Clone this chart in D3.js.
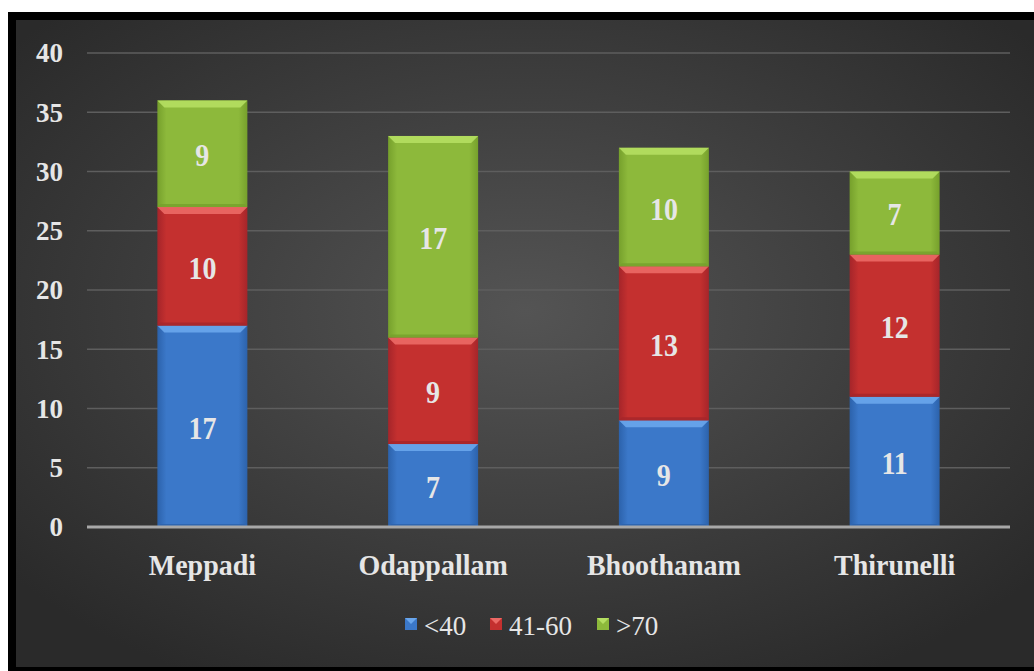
<!DOCTYPE html>
<html><head><meta charset="utf-8">
<script src="https://cdn.jsdelivr.net/npm/d3@7"></script>
<style>html,body{margin:0;padding:0;background:#fff;}svg{display:block;}</style>
</head><body>
<svg id="c" width="1034" height="671"></svg>
<script>
const categories = ["Meppadi", "Odappallam", "Bhoothanam", "Thirunelli"];
const seriesNames = ["<40", "41-60", ">70"];
const lt40 = [17, 7, 9, 11];
const s41to60 = [10, 9, 13, 12];
const gt70 = [9, 17, 10, 7];
const yTicks = [0, 5, 10, 15, 20, 25, 30, 35, 40];
const colors = ["#3b78c9", "#c4302f", "#8db93b"];
const lightColors = ["#6aa6ec", "#ec6a66", "#b5df62"];
const darkColors = ["#2c62ab", "#a5252a", "#76a02c"];
const FONT = "'Liberation Serif','Times New Roman','DejaVu Serif',serif";

const svg = d3.select("#c");
const W = 1034, H = 671;
const defs = svg.append("defs");
const bg = defs.append("radialGradient").attr("id","bg").attr("cx","50%").attr("cy","45%").attr("r","65%");
bg.append("stop").attr("offset","0%").attr("stop-color","#545454");
bg.append("stop").attr("offset","100%").attr("stop-color","#2a2a2a");
colors.forEach((c,i)=>{
  const g = defs.append("linearGradient").attr("id","g"+i).attr("x1","0").attr("x2","1").attr("y1","0").attr("y2","0");
  g.append("stop").attr("offset","0%").attr("stop-color",darkColors[i]);
  g.append("stop").attr("offset","10%").attr("stop-color",c);
  g.append("stop").attr("offset","90%").attr("stop-color",c);
  g.append("stop").attr("offset","100%").attr("stop-color",darkColors[i]);
});

// frame
svg.append("rect").attr("x",8).attr("y",12).attr("width",W-8).attr("height",H-12).attr("fill","#000");
svg.append("rect").attr("x",16).attr("y",20).attr("width",W-16).attr("height",H-24).attr("fill","url(#bg)");

const x = d3.scaleBand().domain(categories).range([87,1010]).paddingInner(0.61).paddingOuter(0.305);
const y = d3.scaleLinear().domain([0,40]).range([527,53]);

// grid
svg.append("g").selectAll("line").data(yTicks.filter(t=>t>0)).join("line")
  .attr("x1",87).attr("x2",1010).attr("y1",d=>y(d)).attr("y2",d=>y(d))
  .attr("stroke","#5e5e5e").attr("stroke-width",1.5);

// y axis labels
const yAxis = d3.axisLeft(y).tickValues(yTicks).tickSize(0).tickPadding(0);
const ya = svg.append("g").attr("transform","translate(63,0)").call(yAxis);
ya.select(".domain").remove();
ya.selectAll("text").attr("font-family",FONT).attr("font-weight","bold")
  .attr("font-size",27).attr("fill","#e6e6e6").attr("dy","0.33em");

// stacks
const rows = categories.map((c,i)=>({cat:c, s0:lt40[i], s1:s41to60[i], s2:gt70[i]}));
const stack = d3.stack().keys(["s0","s1","s2"])(rows);
const bw = x.bandwidth();
const bev = 7;
stack.forEach((layer,si)=>{
  const g = svg.append("g");
  layer.forEach((d,ci)=>{
    const x0 = x(categories[ci]), y0 = y(d[1]), y1 = y(d[0]);
    const h = y1 - y0;
    g.append("rect").attr("x",x0).attr("y",y0).attr("width",bw).attr("height",h).attr("fill","url(#g"+si+")");
    g.append("path").attr("d",`M${x0},${y0}L${x0+bw},${y0}L${x0+bw-bev},${y0+bev}L${x0+bev},${y0+bev}Z`)
      .attr("fill",lightColors[si]).attr("opacity",0.9);
    g.append("path").attr("d",`M${x0},${y1}L${x0+bw},${y1}L${x0+bw-3},${y1-3}L${x0+3},${y1-3}Z`)
      .attr("fill",darkColors[si]).attr("opacity",0.8);
    g.append("text").attr("transform",`translate(${x0+bw/2},${(y0+y1)/2 + 2}) scale(1,1.1)`).attr("dy","0.34em")
      .attr("text-anchor","middle").attr("font-family",FONT).attr("font-weight","bold")
      .attr("font-size",28).attr("fill","#e6e6e6").text(d[1]-d[0]);
  });
});

// baseline
svg.append("line").attr("x1",87).attr("x2",1010).attr("y1",y(0)).attr("y2",y(0)).attr("stroke","#a8a8a8").attr("stroke-width",3);

// x axis
const xAxis = d3.axisBottom(x).tickSize(0).tickPadding(0);
const xa = svg.append("g").attr("transform","translate(0,565)").call(xAxis);
xa.select(".domain").remove();
xa.selectAll("text").attr("font-family",FONT).attr("font-weight","bold")
  .attr("font-size",28).attr("fill","#e6e6e6").attr("dy","0.34em").attr("transform","scale(1,1.08)");

// legend
const legX = [405, 490, 597];
const lg = svg.append("g");
seriesNames.forEach((n,i)=>{
  lg.append("rect").attr("x",legX[i]).attr("y",618).attr("width",12).attr("height",12).attr("fill",colors[i]);
  lg.append("path").attr("d",`M${legX[i]},618L${legX[i]+12},618L${legX[i]+6},624Z`).attr("fill",lightColors[i]);
  lg.append("text").attr("x",legX[i]+19).attr("y",626).attr("dy","0.33em")
    .attr("font-family",FONT).attr("font-size",27).attr("fill","#e6e6e6").text(n);
});
</script>
</body></html>
